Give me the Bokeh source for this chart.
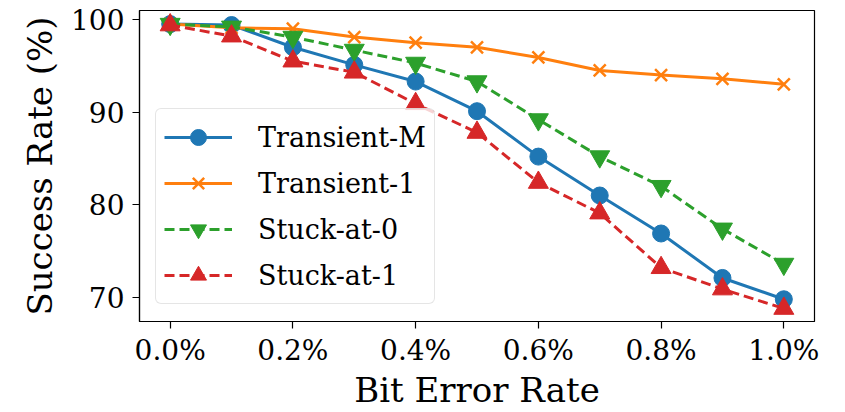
from bokeh.plotting import figure
from bokeh.models import FixedTicker, Legend, LegendItem
from bokeh.embed import file_html
from bokeh.resources import INLINE

ber = [0.0, 0.1, 0.2, 0.3, 0.4, 0.5, 0.6, 0.7, 0.8, 0.9, 1.0]
transient_m = [99.5, 99.4, 97.0, 95.1, 93.3, 90.1, 85.2, 81.0, 76.9, 72.1, 69.8]
transient_1 = [99.5, 99.1, 99.0, 98.1, 97.5, 97.0, 95.9, 94.5, 94.0, 93.6, 93.0]
stuck_0 = [99.5, 99.2, 98.1, 96.7, 95.3, 93.3, 89.2, 85.2, 82.0, 77.4, 73.6]
stuck_1 = [99.4, 98.2, 95.5, 94.3, 90.9, 87.8, 82.4, 79.1, 73.2, 70.9, 68.8]

x_ticks = [0.0, 0.2, 0.4, 0.6, 0.8, 1.0]
x_tick_labels = ["0.0%", "0.2%", "0.4%", "0.6%", "0.8%", "1.0%"]
y_ticks = [70, 80, 90, 100]

FONT = "'DejaVu Serif', 'Liberation Serif', serif"

p = figure(width=845, height=412, output_backend="svg", toolbar_location=None,
           x_range=(-0.05, 1.05), y_range=(67.4, 100.97),
           min_border_left=139, min_border_right=31, min_border_top=10, min_border_bottom=90)
p.background_fill_color = "white"
p.border_fill_color = "white"
p.outline_line_color = "black"
p.outline_line_width = 1.2
p.xgrid.visible = False
p.ygrid.visible = False

for ax in (p.xaxis[0], p.yaxis[0]):
    ax.axis_line_color = "black"
    ax.axis_line_width = 1.2
    ax.major_tick_line_color = "black"
    ax.major_tick_line_width = 1.2
    ax.major_tick_out = 7
    ax.major_tick_in = 0
    ax.minor_tick_line_color = None
    ax.major_label_text_font = FONT
    ax.major_label_text_font_size = "28px"
    ax.major_label_text_color = "black"
    ax.axis_label_text_font = FONT
    ax.axis_label_text_font_size = "34px"
    ax.axis_label_text_font_style = "normal"
    ax.axis_label_text_color = "black"

p.xaxis.ticker = FixedTicker(ticks=x_ticks)
p.xaxis.major_label_overrides = {t: l for t, l in zip(x_ticks, x_tick_labels)}
p.yaxis.ticker = FixedTicker(ticks=y_ticks)
p.xaxis.axis_label = "Bit Error Rate"
p.yaxis.axis_label = "Success Rate (%)"
p.xaxis.major_label_standoff = 5
p.yaxis.major_label_standoff = 8
p.xaxis.axis_label_standoff = 0
p.yaxis.axis_label_standoff = 8

C_BLUE, C_ORANGE, C_GREEN, C_RED = "#1f77b4", "#ff7f0e", "#2ca02c", "#d62728"
LW = 3

items = []
l1 = p.line(ber, transient_m, line_color=C_BLUE, line_width=LW)
m1 = p.scatter(ber, transient_m, marker="circle", size=17, fill_color=C_BLUE, line_color=C_BLUE)
items.append(LegendItem(label="Transient-M", renderers=[l1, m1]))

l2 = p.line(ber, transient_1, line_color=C_ORANGE, line_width=LW)
m2 = p.scatter(ber, transient_1, marker="x", size=17, line_color=C_ORANGE, line_width=2.5)
items.append(LegendItem(label="Transient-1", renderers=[l2, m2]))

l3 = p.line(ber, stuck_0, line_color=C_GREEN, line_width=LW, line_dash="10 5")
m3 = p.scatter(ber, stuck_0, marker="inverted_triangle", size=20, fill_color=C_GREEN, line_color=C_GREEN)
items.append(LegendItem(label="Stuck-at-0", renderers=[l3, m3]))

l4 = p.line(ber, stuck_1, line_color=C_RED, line_width=LW, line_dash="10 5")
m4 = p.scatter(ber, stuck_1, marker="triangle", size=20, fill_color=C_RED, line_color=C_RED)
items.append(LegendItem(label="Stuck-at-1", renderers=[l4, m4]))

legend = Legend(items=items, location=(16, 17))
legend.label_text_font = FONT
legend.label_text_font_size = "27px"
legend.label_text_color = "black"
legend.glyph_width = 68
legend.glyph_height = 40
legend.label_height = 40
legend.label_standoff = 26
legend.spacing = 6
legend.padding = 8
legend.margin = 0
legend.border_line_color = "#cccccc"
legend.border_line_width = 1.5
legend.border_radius = 6
legend.background_fill_color = "white"
legend.background_fill_alpha = 0.8
p.add_layout(legend)

open("out.html", "w").write(file_html(p, INLINE))
